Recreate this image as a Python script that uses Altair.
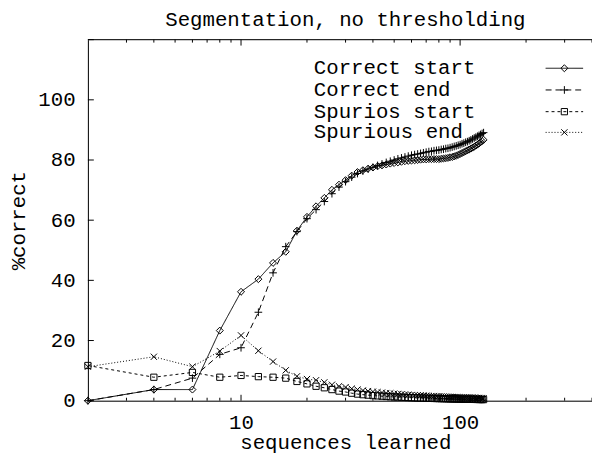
import altair as alt
import pandas as pd

# ---------------- data ----------------
x_vals = list(range(2, 129, 2))

correct_start = [0, 3.7, 3.7, 23.3, 36.2, 40.4, 45.8, 49.5, 56.5, 61.1, 64.6, 67.4, 70.1, 71.8, 73.3, 74.8, 76.0,
                 76.6, 77.1, 77.5, 77.9, 78.2, 78.5, 78.8, 79.0, 79.2, 79.4, 79.6, 79.7, 79.8, 79.9, 80.0, 80.1,
                 80.2, 80.2, 80.3, 80.3, 80.3, 80.3, 80.3, 80.4, 80.5, 80.6, 80.7, 80.9, 81.0, 81.2, 81.4, 81.7,
                 82.0, 82.3, 82.6, 82.9, 83.2, 83.5, 83.8, 84.1, 84.4, 84.8, 85.1, 85.5, 85.9, 86.3, 86.7]
correct_end = [0, 3.7, 7.5, 15.4, 17.6, 29.4, 42.5, 51.2, 56.2, 60.5, 63.5, 66.2, 68.8, 71.0, 72.8, 74.3, 75.5,
               76.3, 77.0, 77.6, 78.2, 78.7, 79.2, 79.6, 80.0, 80.4, 80.7, 81.0, 81.3, 81.6, 81.8, 82.0, 82.2,
               82.4, 82.6, 82.8, 82.9, 83.1, 83.2, 83.3, 83.5, 83.6, 83.8, 83.9, 84.1, 84.3, 84.5, 84.7, 84.9,
               85.1, 85.4, 85.6, 85.9, 86.1, 86.4, 86.7, 87.0, 87.3, 87.6, 87.9, 88.2, 88.5, 88.8, 89.1]
spurious_start = [11.7, 7.8, 9.4, 7.8, 8.4, 8.0, 7.8, 7.5, 6.4, 5.6, 4.8, 4.3, 3.7, 3.2, 2.9, 2.5, 2.2,
                  2.0, 1.85, 1.7, 1.6, 1.5, 1.4, 1.3, 1.25, 1.2, 1.15, 1.1, 1.05, 1.0, 0.95, 0.9, 0.88,
                  0.85, 0.82, 0.8, 0.77, 0.75, 0.72, 0.7, 0.68, 0.66, 0.64, 0.62, 0.6, 0.58, 0.57, 0.55, 0.54,
                  0.52, 0.51, 0.5, 0.48, 0.47, 0.46, 0.45, 0.44, 0.43, 0.42, 0.41, 0.4, 0.39, 0.38, 0.37]
spurious_end = [11.3, 14.6, 11.3, 16.5, 21.7, 16.6, 13.0, 10.1, 8.1, 7.2, 6.8, 6.1, 5.3, 4.8, 4.5, 4.0, 3.7,
                3.4, 3.2, 3.0, 2.85, 2.7, 2.55, 2.45, 2.35, 2.25, 2.15, 2.05, 2.0, 1.9, 1.85, 1.8, 1.75,
                1.7, 1.65, 1.6, 1.55, 1.5, 1.47, 1.44, 1.4, 1.37, 1.34, 1.31, 1.28, 1.25, 1.22, 1.2, 1.17,
                1.15, 1.12, 1.1, 1.08, 1.05, 1.03, 1.01, 0.99, 0.97, 0.95, 0.93, 0.91, 0.89, 0.87, 0.85]

series_names = ["Correct start", "Correct end", "Spurios start", "Spurious end"]

x_major_ticks = [10, 100]
x_minor_ticks = [3, 4, 5, 6, 7, 8, 9, 20, 30, 40, 50, 60, 70, 80, 90, 200, 300, 400]
y_ticks = [0, 20, 40, 60, 80, 100, 120]
y_labels = [0, 20, 40, 60, 80, 100]

title_text = "Segmentation, no thresholding"
x_title = "sequences learned"
y_title = "%correct"

# ---------------- style ----------------
FONT = "Courier New, Liberation Mono, monospace"
FS = 21
W, H = 511, 366
LEFT, TOP = 81, 29
CENTER_X = 261  # centre of the (uncropped) plot frame, in plot coordinates

PLUS = "M-1,0L1,0M0,-1L0,1"
CROSS = "M-1,-1L1,1M-1,1L1,-1"
DIAMOND = "M0,-1L1,0L0,1L-1,0Z"
SQUARE = "M-1,-1L1,-1L1,1L-1,1Z"

styles = [
    dict(vals=correct_start, dash=[1, 0], shape=DIAMOND, size=50),
    dict(vals=correct_end, dash=[6, 4], shape=PLUS, size=60),
    dict(vals=spurious_start, dash=[3, 3], shape=SQUARE, size=40),
    dict(vals=spurious_end, dash=[1, 2], shape=CROSS, size=40),
]

xscale = alt.Scale(type="log", domain=[2, 400], nice=False)
yscale = alt.Scale(domain=[0, 120], nice=False, zero=False)

layers = []

axis_common = dict(domainColor="black", domainWidth=1, ticks=False, grid=False,
                   labelFont=FONT, labelFontSize=FS, labelColor="black",
                   titleFont=FONT, titleFontSize=FS, titleColor="black", titleFontWeight="normal")

base_df = pd.DataFrame({"x": [2, 400], "y": [0, 120]})
axes_layer = alt.Chart(base_df).mark_point(opacity=0).encode(
    x=alt.X("x:Q", scale=xscale,
            axis=alt.Axis(values=x_major_ticks, format="d", labelPadding=11, title=x_title,
                          titleX=CENTER_X, titleY=48, titleBaseline="alphabetic", **axis_common)),
    y=alt.Y("y:Q", scale=yscale,
            axis=alt.Axis(values=y_labels, labelPadding=13, title=y_title,
                          titleX=-70, titleY=H / 2, titleBaseline="middle", **axis_common)),
)
layers.append(axes_layer)

# top border
layers.append(alt.Chart(pd.DataFrame({"a": [0]})).mark_rule(color="black", strokeWidth=1).encode(
    x=alt.value(0), x2=alt.value(W), y=alt.value(0)))

# inward ticks
maj_df = pd.DataFrame({"t": x_major_ticks})
min_df = pd.DataFrame({"t": x_minor_ticks})
yt_df = pd.DataFrame({"t": y_ticks})
for df, ln in [(maj_df, 6), (min_df, 3)]:
    layers.append(alt.Chart(df).mark_rule(color="black", strokeWidth=1).encode(
        x=alt.X("t:Q", scale=xscale), y=alt.value(H), y2=alt.value(H - ln)))
    layers.append(alt.Chart(df).mark_rule(color="black", strokeWidth=1).encode(
        x=alt.X("t:Q", scale=xscale), y=alt.value(0), y2=alt.value(ln)))
layers.append(alt.Chart(yt_df).mark_rule(color="black", strokeWidth=1).encode(
    y=alt.Y("t:Q", scale=yscale), x=alt.value(0), x2=alt.value(6)))

# series + legend
leg_text_x = 229
leg_line_x1, leg_line_x2 = 464, 502
leg_rows = [29, 51, 73, 94]

for i, (name, st) in enumerate(zip(series_names, styles)):
    df = pd.DataFrame({"x": x_vals, "v": st["vals"], "series": name})
    enc = dict(x=alt.X("x:Q", scale=xscale), y=alt.Y("v:Q", scale=yscale))
    layers.append(alt.Chart(df).mark_line(color="black", strokeWidth=1, strokeDash=st["dash"]).encode(**enc))
    layers.append(alt.Chart(df).mark_point(shape=st["shape"], size=st["size"], filled=False,
                                           color="black", strokeWidth=1, opacity=1).encode(**enc))
    ldf = pd.DataFrame({"label": [name]})
    ry = leg_rows[i]
    layers.append(alt.Chart(ldf).mark_text(font=FONT, fontSize=FS, align="left", baseline="middle",
                                           color="black").encode(
        text="label:N", x=alt.value(leg_text_x), y=alt.value(ry)))
    layers.append(alt.Chart(ldf).mark_rule(color="black", strokeWidth=1, strokeDash=st["dash"]).encode(
        x=alt.value(leg_line_x1), x2=alt.value(leg_line_x2), y=alt.value(ry)))
    layers.append(alt.Chart(ldf).mark_point(shape=st["shape"], size=st["size"], filled=False,
                                            color="black", strokeWidth=1, opacity=1).encode(
        x=alt.value((leg_line_x1 + leg_line_x2) / 2), y=alt.value(ry)))

# title as text
tdf = pd.DataFrame({"t": [title_text]})
layers.append(alt.Chart(tdf).mark_text(font=FONT, fontSize=FS, align="center", baseline="middle",
                                       color="black").encode(
    text="t:N", x=alt.value(CENTER_X), y=alt.value(-20)))

chart = alt.layer(*layers).properties(
    width=W, height=H,
    padding={"left": LEFT, "top": TOP, "right": 0, "bottom": 55},
    autosize=alt.AutoSizeParams(type="none"),
).configure_view(stroke=None).configure(background="white")

chart.save("out.html", embed_options={"renderer": "svg", "actions": False})
